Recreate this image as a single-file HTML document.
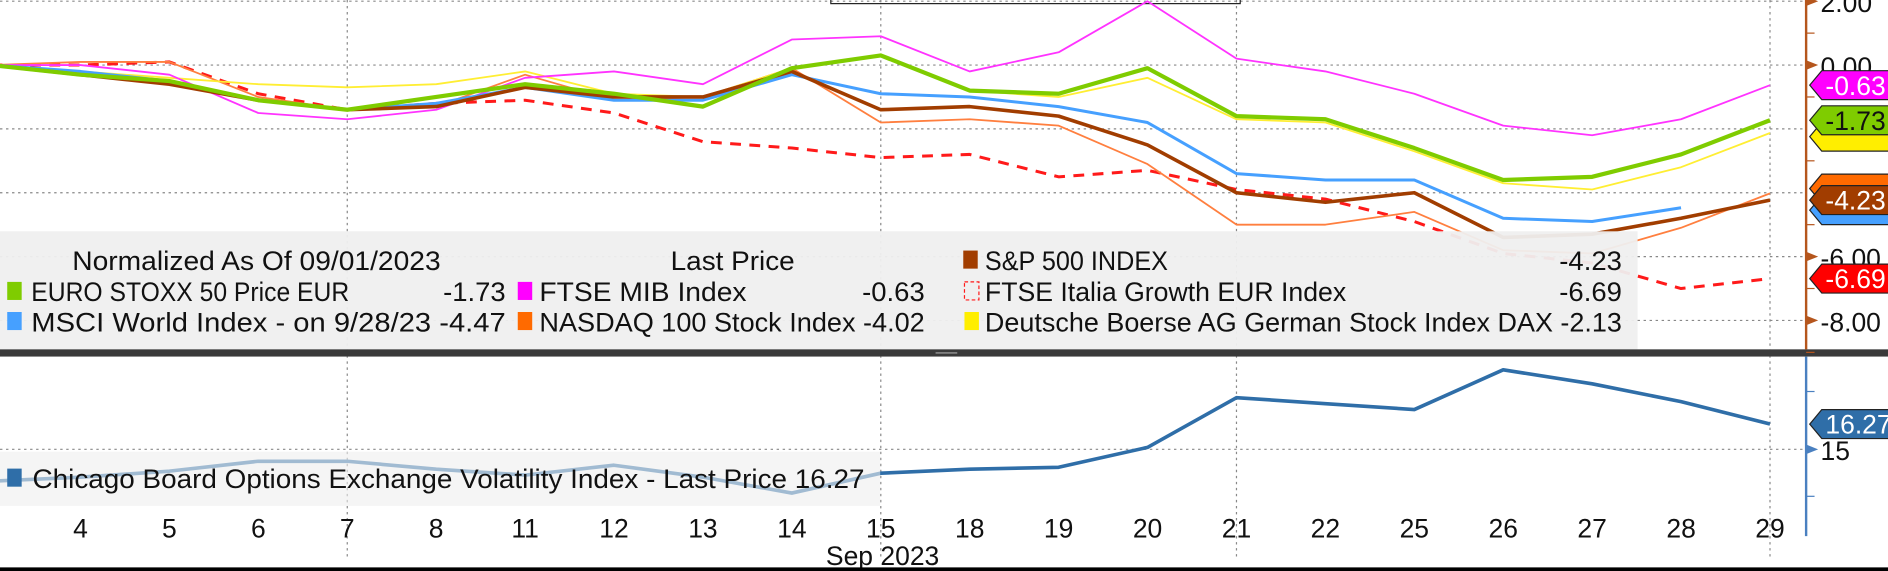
<!DOCTYPE html>
<html><head><meta charset="utf-8"><style>
html,body{margin:0;padding:0;background:#fff;}
svg{display:block;font-family:"Liberation Sans",sans-serif;}
</style></head><body>
<svg id="chart" width="1888" height="571" viewBox="0 0 1568 474" preserveAspectRatio="none" xmlns="http://www.w3.org/2000/svg">
<g id="grid"></g>
<g id="legend-top"></g>
<g id="series"></g>
<g id="axes"></g>
</svg>
<script>
const days = ['1','4','5','6','7','8','11','12','13','14','15','18','19','20','21','22','25','26','27','28','29'];
const euroStoxx = [0,-0.3,-0.5,-1.1,-1.4,-1.0,-0.6,-0.9,-1.3,-0.1,0.3,-0.8,-0.9,-0.1,-1.6,-1.7,-2.6,-3.6,-3.5,-2.8,-1.73];
const ftseMib = [0,0,-0.3,-1.5,-1.7,-1.4,-0.4,-0.2,-0.6,0.8,0.9,-0.2,0.4,2.0,0.2,-0.2,-0.9,-1.9,-2.2,-1.7,-0.63];
const msciWorld = [0,-0.2,-0.5,-1.1,-1.4,-1.2,-0.7,-1.1,-1.1,-0.3,-0.9,-1.0,-1.3,-1.8,-3.4,-3.6,-3.6,-4.8,-4.9,-4.47,null];
const nasdaq = [0,0.1,0.1,-1.0,-1.4,-1.3,-0.3,-1.1,-1.0,-0.1,-1.8,-1.7,-1.9,-3.1,-5.0,-5.0,-4.6,-5.8,-5.9,-5.1,-4.02];
const sp500 = [0,-0.3,-0.6,-1.1,-1.4,-1.3,-0.7,-1.0,-1.0,-0.2,-1.4,-1.3,-1.6,-2.5,-4.0,-4.3,-4.0,-5.4,-5.3,-4.8,-4.23];
const ftseGrowth = [0,0,0.1,-0.9,-1.4,-1.2,-1.1,-1.5,-2.4,-2.6,-2.9,-2.8,-3.5,-3.3,-3.9,-4.2,-4.9,-5.9,-6.2,-7.0,-6.69];
const dax = [0,-0.2,-0.4,-0.6,-0.7,-0.6,-0.2,-0.9,-1.0,-0.1,0.3,-0.8,-1.0,-0.4,-1.7,-1.8,-2.7,-3.7,-3.9,-3.2,-2.13];
const vix = [13.4,13.6,13.9,14.4,14.4,14.0,13.7,14.2,13.6,12.8,13.8,14.0,14.1,15.1,17.6,17.3,17.0,19.0,18.3,17.4,16.27];
const yTicks = [2,0,-6,-8];
const yGrid = [2,0,-2,-4,-6,-8];

const NS='http://www.w3.org/2000/svg';
function mk(tag,attrs,parent){const e=document.createElementNS(NS,tag);for(const k in attrs)e.setAttribute(k,attrs[k]);parent.appendChild(e);return e;}
const xPos = i => -7 + i*73.85;
const yMain = v => 54 - v*26.5;
const yVix = v => 373 - (v-15)*16.5;
const grid=document.getElementById('grid'), ser=document.getElementById('series'), ax=document.getElementById('axes'), leg=document.getElementById('legend-top');
const svg=document.getElementById('chart');

yGrid.forEach(v=>{const l=mk('line',{x1:0,x2:1500,y1:yMain(v),y2:yMain(v),stroke:'#888','stroke-width':1,'stroke-dasharray':'2,3'},grid);

});
[4,10,14,20].forEach(i=>{const l=mk('line',{x1:xPos(i),x2:xPos(i),y1:0,y2:462,stroke:'#888','stroke-width':1,'stroke-dasharray':'2,3'},grid);

});
const g15=mk('line',{x1:0,x2:1500,y1:yVix(15),y2:yVix(15),stroke:'#888','stroke-width':1,'stroke-dasharray':'2,3'},grid);


mk('rect',{x:690,y:-2,width:340,height:5,fill:'none',stroke:'#222','stroke-width':1},grid);

function line(data,yf,color,w,dash,name,op){
  let d='';data.forEach((v,i)=>{if(v===null)return;d+=(d?'L':'M')+xPos(i).toFixed(1)+','+yf(v).toFixed(1);});
  const p=mk('path',{d:d,fill:'none',stroke:color,'stroke-width':w,'stroke-linejoin':'round'},ser);
  if(dash)p.setAttribute('stroke-dasharray',dash);
  if(op)p.setAttribute('opacity',op);
  
  
}
line(ftseGrowth,yMain,'#ff1a1a',2.5,'9,7','ftse-italia-growth-line');
line(nasdaq,yMain,'#ff7f3f',1.5,null,'nasdaq-line');
line(dax,yMain,'#ffee33',1.5,null,'dax-line');
line(ftseMib,yMain,'#ff33ff',1.5,null,'ftse-mib-line');
line(msciWorld,yMain,'#46a0ff',2.5,null,'msci-world-line');
line(sp500,yMain,'#a13d00',3,null,'sp500-line');
line(euroStoxx,yMain,'#7fcc00',3.5,null,'euro-stoxx-line');

const lb=mk('rect',{x:0,y:192,width:1360,height:98,fill:'#efefef',opacity:0.95},ser);


line(vix,yVix,'#2f6ea8',3,null,'vix-line');
const lb2=mk('rect',{x:0,y:375,width:731,height:45,fill:'#efefef',opacity:0.6},ser);



mk('rect',{x:0,y:290,width:1568,height:6,fill:'#3a3a3a'},ax);
mk('line',{x1:777,x2:795,y1:293,y2:293,stroke:'#aaa','stroke-width':1},ax);

const T=(x,y,s,txt,name,anchor,fill,len)=>{const t=mk('text',{x:x,y:y,'font-size':s,fill:fill||'#111','text-anchor':anchor||'start'},svg);if(len){t.setAttribute('textLength',len);t.setAttribute('lengthAdjust','spacingAndGlyphs');}t.textContent=txt;return t;};
const sw=(x,y,c,name,dashed)=>{const r=mk('rect',{x:x,y:y,width:12,height:15,fill:dashed?'none':c,stroke:dashed?c:'none','stroke-dasharray':dashed?'3,2':''},svg);};
T(60,224,22,'Normalized As Of 09/01/2023','legend-title','start',null,306);
T(557,224,22,'Last Price','legend-last-price-header','start',null,103);
sw(800,208,'#a13d00','legend-swatch-sp500');T(818,224,22,'S&P 500 INDEX','legend-sp500','start',null,152);T(1347,224,22,'-4.23','legend-sp500-value','end',null,52);
sw(6,234,'#7fcc00','legend-swatch-euro-stoxx');T(26,250,22,'EURO STOXX 50 Price EUR','legend-euro-stoxx','start',null,264);T(420,250,22,'-1.73','legend-euro-stoxx-value','end',null,52);
sw(430,234,'#ff00ff','legend-swatch-ftse-mib');T(448,250,22,'FTSE MIB Index','legend-ftse-mib','start',null,172);T(768,250,22,'-0.63','legend-ftse-mib-value','end',null,52);
sw(801,234,'#ff1a1a','legend-swatch-ftse-growth',true);T(818,250,22,'FTSE Italia Growth EUR Index','legend-ftse-growth','start',null,300);T(1347,250,22,'-6.69','legend-ftse-growth-value','end',null,52);
sw(6,259,'#46a0ff','legend-swatch-msci');T(26,275,22,'MSCI World Index -  on 9/28/23 -4.47','legend-msci','start',null,394);
sw(430,259,'#ff6a00','legend-swatch-nasdaq');T(448,275,22,'NASDAQ 100 Stock Index -4.02','legend-nasdaq','start',null,320);
sw(801,259,'#ffee00','legend-swatch-dax');T(818,275,22,'Deutsche Boerse AG German Stock Index DAX -2.13','legend-dax','start',null,529);
sw(6,389,'#2f6ea8','legend-swatch-vix');T(27,405,22,'Chicago Board Options Exchange Volatility Index - Last Price 16.27','legend-vix','start',null,691);

mk('line',{x1:1500,x2:1500,y1:0,y2:290,stroke:'#b5561d','stroke-width':2},ax);
mk('line',{x1:1500,x2:1500,y1:296,y2:445,stroke:'#4a80c0','stroke-width':2},ax);
[-1,1,3,5,7,9].forEach(k=>{mk('line',{x1:1500,x2:1507,y1:yMain(-k),y2:yMain(-k),stroke:'#b5561d','stroke-width':1},ax);});
yTicks.forEach(v=>{mk('path',{d:`M1500,${yMain(v)-4}L1510,${yMain(v)}L1500,${yMain(v)+4}Z`,fill:'#b5561d'},ax);
T(1512,yMain(v)+9,22,v.toFixed(2),'y-tick-label');});
mk('path',{d:`M1500,${yVix(15)-4}L1510,${yVix(15)}L1500,${yVix(15)+4}Z`,fill:'#4a80c0'},ax);
T(1512,yVix(15)+9,22,'15','vix-tick-label');
[325,412].forEach(y=>mk('line',{x1:1500,x2:1507,y1:y,y2:y,stroke:'#4a80c0'},ax));
function tag(y,fill,txt,tc,name){const p=mk('path',{d:`M1503,${y}L1513,${y-12}L1570,${y-12}L1570,${y+12}L1513,${y+12}Z`,fill:fill,stroke:'#222','stroke-width':1},svg);


if(txt){T(1516,y+8,22,txt,name+'-text','start',tc);}}
tag(yMain(-2.13)+3,'#ffee00','','#111','dax-tag');
tag(yMain(-1.73),'#7fcc00','-1.73','#111','euro-stoxx-tag');
tag(yMain(-0.63),'#ff00ff','-0.63','#fff','ftse-mib-tag');
tag(yMain(-4.02)-4,'#ff6a00','','#fff','nasdaq-tag');
tag(yMain(-4.47)+2,'#46a0ff','','#fff','msci-tag');
tag(yMain(-4.23),'#a13d00','-4.23','#fff','sp500-tag');
tag(yMain(-6.69),'#ff0000','-6.69','#fff','ftse-growth-tag');
tag(yVix(16.27),'#2f6ea8','16.27','#fff','vix-tag');

days.forEach((d,i)=>{if(i===0)return;T(xPos(i),446,22,d,'x-tick-label','middle');});
T(733,469,22,'Sep 2023','x-axis-month','middle');
mk('rect',{x:0,y:471,width:1568,height:3,fill:'#000'},svg);
</script>
</body></html>
